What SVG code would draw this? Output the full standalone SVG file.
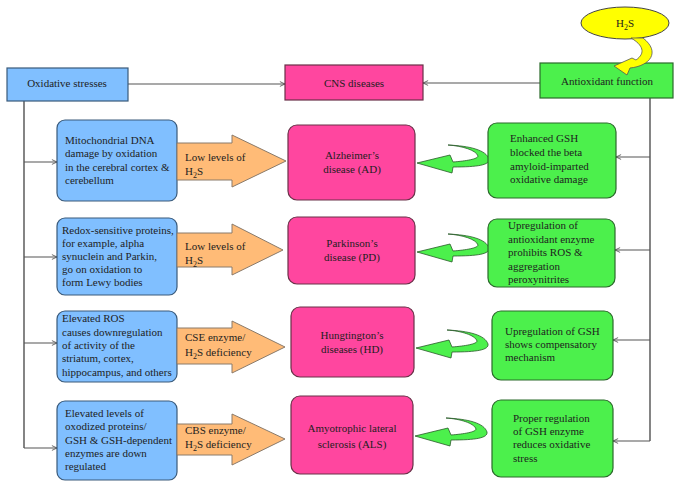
<svg xmlns="http://www.w3.org/2000/svg" width="681" height="488" viewBox="0 0 681 488" font-family="'Liberation Serif', 'Times New Roman', serif">
<defs>
<marker id="chev" viewBox="0 0 10 10" refX="9.5" refY="5" markerWidth="6" markerHeight="9" markerUnits="userSpaceOnUse" orient="auto">
<path d="M1,1 L9.5,5 L1,9" fill="none" stroke="#444" stroke-width="1.3"/>
</marker>
<path id="curl" d="M 448 145 C 470 146, 486 150, 489 159 C 490 165, 478 167, 453 167 L 452 173 L 417 163 L 450 155 L 453 162 C 466 161, 478 159, 478 156 C 476 150, 462 146, 448 145 Z"/>
<style>
text{font-family:"Liberation Serif","Times New Roman",serif;font-size:11px;fill:#1e1e1e}
.c{text-anchor:middle}
.blue{fill:#80BFFF;stroke:#3a5a7a;stroke-width:1.2}
.pink{fill:#FF469F;stroke:#6a3048;stroke-width:1.2}
.green{fill:#4CF04C;stroke:#2a6a2a;stroke-width:1.2}
.orange{fill:#FFBB77;stroke:#8a7a6a;stroke-width:1}
.gcurl{fill:#4CF04C;stroke:#2a5a2a;stroke-width:0.8}
.ln{fill:none;stroke:#333;stroke-width:1.2}
.ar{fill:none;stroke:#555;stroke-width:1.2;marker-end:url(#chev)}
.sub{font-size:8px}
</style>
</defs>

<g id="connectors">
<line class="ar" x1="128" y1="84" x2="285" y2="84"/>
<line class="ar" x1="540" y1="83" x2="423" y2="83"/>
<line class="ln" x1="24" y1="101" x2="24" y2="448"/>
<line class="ar" x1="24" y1="162" x2="57" y2="162"/>
<line class="ar" x1="24" y1="257" x2="57" y2="257"/>
<line class="ar" x1="24" y1="343" x2="57" y2="343"/>
<line class="ar" x1="24" y1="448" x2="57" y2="448"/>
<line class="ln" x1="650" y1="98" x2="650" y2="441"/>
<line class="ar" x1="650" y1="157" x2="616" y2="157"/>
<line class="ar" x1="650" y1="250" x2="615" y2="250"/>
<line class="ar" x1="650" y1="340" x2="613" y2="340"/>
<line class="ar" x1="650" y1="441" x2="613" y2="441"/>
</g>

<g id="oxidative">
<rect class="blue" x="7" y="68" width="121" height="33"/>
<text class="c" x="67" y="87">Oxidative stresses</text>
</g>
<g id="cns">
<rect class="pink" x="285" y="65" width="138" height="35"/>
<text class="c" x="354" y="87">CNS diseases</text>
</g>
<g id="antioxidant">
<rect class="green" x="540" y="63" width="133" height="35"/>
<text class="c" x="607" y="85">Antioxidant function</text>
</g>

<g id="h2s">
<ellipse cx="625" cy="23" rx="44" ry="16" fill="#FFFF00" stroke="#444" stroke-width="1"/>
<text class="c" x="625" y="27">H<tspan class="sub" dy="3">2</tspan><tspan dy="-3">S</tspan></text>
<path d="M 631 38 C 643 45, 646 53, 636 60 L 632 58 L 614 66 L 627 75 L 630 68 C 650 66, 661 52, 643 38 Z" fill="#FFFF00" stroke="#555" stroke-width="0.8"/>
</g>

<g id="blue1">
<rect class="blue" x="57" y="120" width="120" height="81" rx="8"/>
<text x="65" y="144">Mitochondrial DNA</text>
<text x="65" y="157">damage by oxidation</text>
<text x="65" y="171">in the cerebral cortex &amp;</text>
<text x="65" y="184">cerebellum</text>
</g>
<g id="blue2">
<rect class="blue" x="57" y="218" width="120" height="77" rx="8"/>
<text x="62" y="234">Redox-sensitive proteins,</text>
<text x="62" y="247">for example, alpha</text>
<text x="62" y="260">synuclein and Parkin,</text>
<text x="62" y="273">go on oxidation to</text>
<text x="62" y="286">form Lewy bodies</text>
</g>
<g id="blue3">
<rect class="blue" x="57" y="311" width="120" height="71" rx="8"/>
<text x="62" y="322">Elevated ROS</text>
<text x="62" y="336">causes downregulation</text>
<text x="62" y="349">of activity of the</text>
<text x="62" y="362">striatum, cortex,</text>
<text x="62" y="376">hippocampus, and others</text>
</g>
<g id="blue4">
<rect class="blue" x="57" y="401" width="120" height="79" rx="8"/>
<text x="65" y="417">Elevated levels of</text>
<text x="65" y="430">oxodized proteins/</text>
<text x="65" y="444">GSH &amp; GSH-dependent</text>
<text x="65" y="457">enzymes are down</text>
<text x="65" y="470">regulated</text>
</g>

<g id="orange1">
<path class="orange" d="M177 143 H232 V135 L286 161 L232 187 V180 H177 Z"/>
<text x="185" y="161">Low levels of</text>
<text x="185" y="175">H<tspan class="sub" dy="3">2</tspan><tspan dy="-3">S</tspan></text>
</g>
<g id="orange2">
<path class="orange" d="M177 233 H232 V224 L283 250 L232 275 V267 H177 Z"/>
<text x="185" y="250">Low levels of</text>
<text x="185" y="264">H<tspan class="sub" dy="3">2</tspan><tspan dy="-3">S</tspan></text>
</g>
<g id="orange3">
<path class="orange" d="M177 328 H232 V321 L285 347 L232 373 V364 H177 Z"/>
<text x="185" y="341">CSE enzyme/</text>
<text x="185" y="356">H<tspan class="sub" dy="3">2</tspan><tspan dy="-3">S deficiency</tspan></text>
</g>
<g id="orange4">
<path class="orange" d="M177 424 H232 V414 L285 439 L232 465 V455 H177 Z"/>
<text x="185" y="434">CBS enzyme/</text>
<text x="185" y="448">H<tspan class="sub" dy="3">2</tspan><tspan dy="-3">S deficiency</tspan></text>
</g>

<g id="ad">
<rect class="pink" x="288" y="125" width="127" height="75" rx="9"/>
<text class="c" x="352" y="159">Alzheimer’s</text>
<text class="c" x="352" y="173">disease (AD)</text>
</g>
<g id="pd">
<rect class="pink" x="288" y="217" width="127" height="67" rx="9"/>
<text class="c" x="352" y="247">Parkinson’s</text>
<text class="c" x="352" y="261">disease (PD)</text>
</g>
<g id="hd">
<rect class="pink" x="291" y="307" width="123" height="70" rx="9"/>
<text class="c" x="352" y="339">Hungtington’s</text>
<text class="c" x="352" y="353">diseases (HD)</text>
</g>
<g id="als">
<rect class="pink" x="291" y="396" width="122" height="78" rx="9"/>
<text class="c" x="352" y="432">Amyotrophic lateral</text>
<text class="c" x="352" y="448">sclerosis (ALS)</text>
</g>

<g id="curls">
<use href="#curl" class="gcurl"/>
<use href="#curl" class="gcurl" transform="translate(0,89)"/>
<use href="#curl" class="gcurl" transform="translate(-1,185)"/>
<use href="#curl" class="gcurl" transform="translate(-2,273)"/>
</g>

<g id="green1">
<rect class="green" x="488" y="123" width="128" height="75" rx="9"/>
<text x="510" y="142">Enhanced GSH</text>
<text x="510" y="156">blocked the beta</text>
<text x="510" y="170">amyloid-imparted</text>
<text x="510" y="183">oxidative damage</text>
</g>
<g id="green2">
<rect class="green" x="488" y="219" width="127" height="68" rx="9"/>
<text x="508" y="229">Upregulation of</text>
<text x="508" y="243">antioxidant enzyme</text>
<text x="508" y="256">prohibits ROS &amp;</text>
<text x="508" y="270">aggregation</text>
<text x="508" y="283">peroxynitrites</text>
</g>
<g id="green3">
<rect class="green" x="492" y="311" width="121" height="69" rx="9"/>
<text x="505" y="335">Upregulation of GSH</text>
<text x="505" y="348">shows compensatory</text>
<text x="505" y="361">mechanism</text>
</g>
<g id="green4">
<rect class="green" x="492" y="400" width="121" height="77" rx="9"/>
<text x="513" y="422">Proper regulation</text>
<text x="513" y="435">of GSH enzyme</text>
<text x="513" y="448">reduces oxidative</text>
<text x="513" y="462">stress</text>
</g>
</svg>
